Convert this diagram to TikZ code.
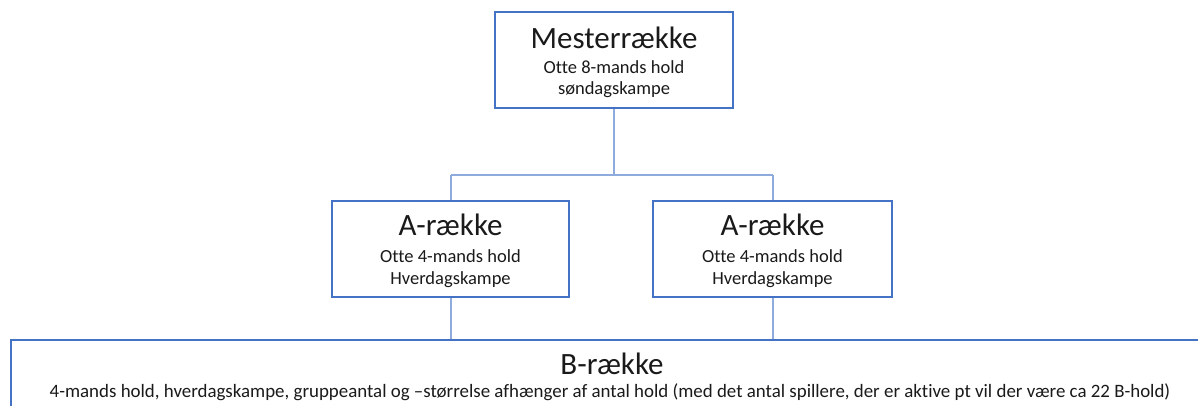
\documentclass[tikz,border=0pt]{standalone}
\usepackage{fontspec}
\setmainfont{Carlito}[Ligatures=NoCommon]
\definecolor{boxblue}{HTML}{4472C4}
\definecolor{linkblue}{HTML}{8FAADC}
\definecolor{txt}{HTML}{1A1A1A}
\tikzset{
  box/.style={draw=boxblue, line width=2.4pt, fill=white, inner sep=0pt, minimum width=238pt, minimum height=96pt},
  conn/.style={draw=linkblue, line width=1.1pt},
  ttl/.style={anchor=base, inner sep=0pt, text=txt, font=\fontsize{31}{34}\selectfont},
  sub/.style={anchor=base, inner sep=0pt, text=txt, font=\fontsize{18.5}{22}\selectfont},
  subwide/.style={sub, font=\fontsize{18.9}{22}\selectfont}
}
\begin{document}
\begin{tikzpicture}[x=1pt,y=-1pt]
\useasboundingbox (0,0) rectangle (1198,405);
\clip (0,0) rectangle (1198,405);
\fill[white] (0,0) rectangle (1198,405);
\node[box] (M) at (614,60) {};
\node[box, minimum width=237pt] (A1) at (450.5,249) {};
\node[box, minimum width=239pt] (A2) at (772.5,249) {};
\node[box, anchor=north west, minimum width=1230pt, minimum height=100pt] (B) at (10,339) {};
\coordinate (J) at (614,175);
\coordinate (JL) at (451,175);
\coordinate (JR) at (773,175);
\draw[conn] (M.south) -- (J);
\draw[conn] (JL) -- (JR);
\draw[conn] (JL) -- (JL |- A1.north);
\draw[conn] (JR) -- (JR |- A2.north);
\draw[conn] (A1.south -| JL) -- (JL |- B.north);
\draw[conn] (A2.south -| JR) -- (JR |- B.north);
\node[box] at (M) {};
\node[box, minimum width=237pt] at (A1) {};
\node[box, minimum width=239pt] at (A2) {};
\node[box, anchor=north west, minimum width=1230pt, minimum height=100pt] at (10,339) {};
\node[ttl] (Mt) at (614,48) {Mesterrække};
\node[sub] (Ms1) at (614,73) {Otte 8-mands hold};
\node[sub] (Ms2) at (614,94) {søndagskampe};
\node[ttl] (A1t) at (450.5,235) {A-række};
\node[sub] (A1s1) at (450.5,262) {Otte 4-mands hold};
\node[sub] (A1s2) at (450.5,284) {Hverdagskampe};
\node[ttl] (A2t) at (772.5,235) {A-række};
\node[sub] (A2s1) at (772.5,262) {Otte 4-mands hold};
\node[sub] (A2s2) at (772.5,284) {Hverdagskampe};
\node[ttl] (Bt) at (612,374) {B-række};
\node[subwide] (Bs) at (610,397) {4-mands hold, hverdagskampe, gruppeantal og –størrelse afhænger af antal hold (med det antal spillere, der er aktive pt vil der være ca 22 B-hold)};
\end{tikzpicture}
\end{document}
